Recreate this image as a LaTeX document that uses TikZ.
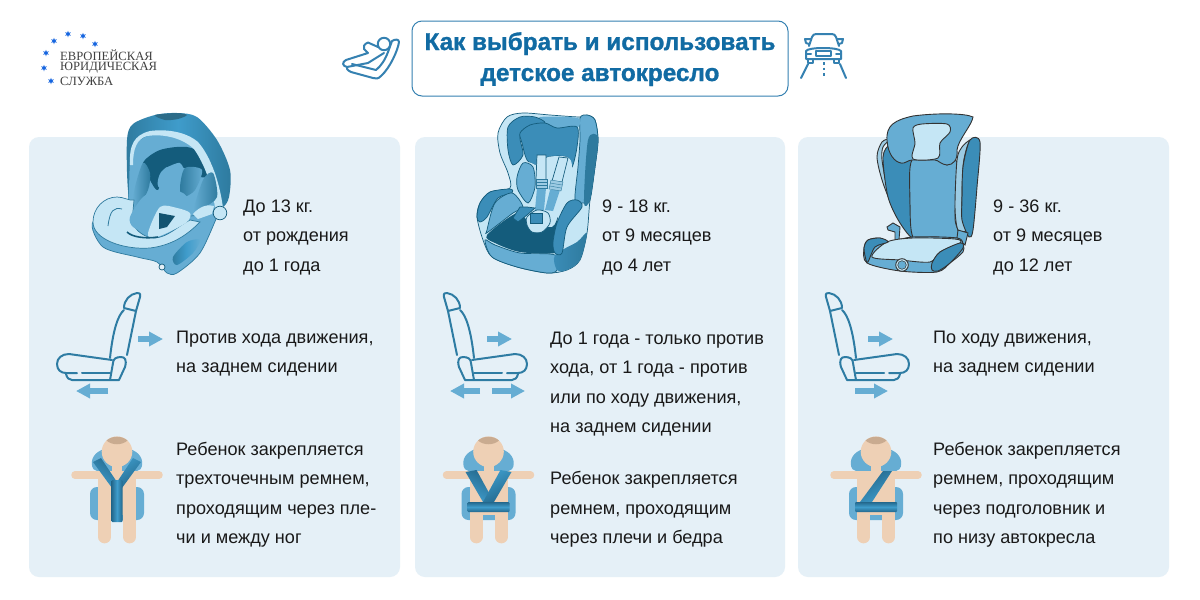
\documentclass[tikz,border=0pt]{standalone}
\usepackage{fontspec}
\setmainfont{Liberation Sans}
\newfontfamily\logofont{Liberation Serif}
\newfontfamily\headfont[BoldFont={Liberation Sans Bold},BoldFeatures={FakeBold=1.2}]{Liberation Sans}
\usetikzlibrary{arrows.meta,shapes.geometric}
\definecolor{panelbg}{HTML}{E5F0F7}
\definecolor{titleblue}{HTML}{116BA3}
\definecolor{seatdark}{HTML}{145C7C}
\definecolor{seatshade}{HTML}{2E7A9E}
\definecolor{seatmid}{HTML}{3B8DB8}
\definecolor{seatblue}{HTML}{66ADD3}
\definecolor{seatrim}{HTML}{9CCBE3}
\definecolor{seatlight}{HTML}{C5E6F5}
\definecolor{iconline}{HTML}{2E7CA3}
\definecolor{skin}{HTML}{EED0B5}
\definecolor{hair}{HTML}{C9AB90}
\definecolor{beltlight}{HTML}{3F9CCB}
\definecolor{beltdark}{HTML}{23688C}
\definecolor{logostar}{HTML}{1565E0}
\tikzset{
  panel/.style={fill=panelbg, rounded corners=10pt},
  bodytext/.style={anchor=west, align=left, inner sep=0pt, text=black!90,
    font=\fontsize{18.1}{29.5}\selectfont},
  logotext/.style={anchor=west, inner sep=0pt, text=black!75,
    font=\logofont\fontsize{12.6}{13}\selectfont},
  logostarmark/.style={star, star points=6, star point ratio=2.2, fill=logostar,
    minimum size=6.5pt, inner sep=0pt},
  titleline/.style={anchor=base, inner sep=0pt, text=titleblue,
    font=\headfont\fontsize{24.3}{30}\selectfont\bfseries},
  outline/.style={draw=seatdark, line width=0.7pt},
  inkline/.style={draw=black!80, line width=0.9pt},
  moveicon/.style={draw=iconline, line width=2pt, line cap=round, line join=round},
  titleicon/.style={draw=titleblue!85, line width=2pt, line cap=round, line join=round},
  movearrow/.style={draw=seatblue, line width=5.5pt, -{Triangle[length=14pt,width=14pt]}},
  limb/.style={draw=skin, line width=12.7pt, line cap=round},
  carseat/.pic={
    % headrest and back
    \draw[moveicon] (14,12) .. controls (13,8) and (15,8) .. (17,8) .. controls (24,9) and (30,15) .. (30,23) -- (18,26) -- cycle;
    \draw[moveicon] (18,26) -- (27,70);
    \draw[moveicon] (30,25) .. controls (36,30) and (41,45) .. (44,73);
    % cushion
    \draw[moveicon] (42,75) -- (85,69) .. controls (92,69) and (97,73) .. (97,79) .. controls (97,85) and (93,88) .. (88,88) -- (77,88);
    \draw[moveicon] (72,88) -- (44,88);
    \draw[moveicon] (88,89) .. controls (87,93) and (85,95) .. (82,95) -- (35,95) -- (29,82) .. controls (27,75) and (29,72) .. (33,72) .. controls (38,72) and (41,74) .. (41,78) -- (44,95);
  },
  childfigure/.pic={
    % seat pads behind the child
    \fill[seatblue] plot[smooth cycle] coordinates {(-25,176) (-19,167) (0,160) (19,167) (25,176) (20,186) (-20,186)};
    \fill[seatblue, rounded corners=7pt] (-27,202) rectangle (27,235);
    % arms, trunk and legs
    \draw[skin, line width=7.5pt, line cap=round] (-42,190) -- (42,190);
    \fill[skin] (-19,187) rectangle (19,230);
    \fill[skin] (-5,178) rectangle (5,190);
    \draw[limb] (-12.3,228) -- (-12.3,252);
    \draw[limb] (12.8,228) -- (12.8,252);
  },
  childhead/.pic={
    \fill[skin] (0,166.7) circle (15.3);
    \fill[hair] (-10.5,155.5) .. controls (-5,150.5) and (5,150.5) .. (10.5,155.5) .. controls (5,160.5) and (-5,160.5) .. cycle;
  },
  lapbelt/.pic={
    \shade[top color=beltdark, bottom color=beltdark, middle color=beltlight, rounded corners=1pt] (-21,217) rectangle (21,227);
  }
}
\begin{document}
\begin{tikzpicture}[x=1pt,y=-1pt]
\useasboundingbox (0,0) rectangle (1200,600);
\fill[white] (0,0) rectangle (1200,600);

% panels
\fill[panel] (29,137) rectangle (400,577);
\fill[panel] (415,137) rectangle (785,577);
\fill[panel] (798,137) rectangle (1169,577);

% logo
\foreach \sx/\sy [count=\i] in {68/34,83/36,54/41,95/44,46/53,44/68,51/81}
  \node[logostarmark] (logostar\i) at (\sx,\sy) {};
\node[logotext] (logoA) at (60,55) {ЕВРОПЕЙСКАЯ};
\node[logotext] (logoB) at (60,68) {ЮРИДИЧЕСКАЯ};
\node[logotext] (logoC) at (60,81) {СЛУЖБА};

% title
\draw[draw=titleblue!85, line width=1pt, rounded corners=10pt] (412,21) rectangle (788,96);
\node[titleline] (titleA) at (600,50) {Как выбрать и использовать};
\node[titleline] (titleB) at (600,81) {детское автокресло};

% baby seat icon
\draw[titleicon] (384,44) circle (6.2);
\draw[titleicon] (378,47) -- (368,42.5) .. controls (364,44) and (363,47) .. (364,49) -- (368,53) -- (346,60) .. controls (342,62) and (342,66) .. (347,67) -- (368,63) -- (384,53);
\draw[titleicon] (392,41) .. controls (395,39) and (399,39) .. (399,42) .. controls (398,50) and (390,68) .. (381,76) .. controls (378,79) and (376,79) .. (373,78) -- (351,72) .. controls (347,70) and (346,68) .. (347,67);
\draw[titleicon] (392,41) -- (388,52) .. controls (385,60) and (381,66) .. (376,70) -- (352,64);

% car icon
\draw[titleicon] (809,46) -- (812,37) .. controls (813,35) and (814,34) .. (816,34) -- (832,34) .. controls (834,34) and (835,35) .. (836,37) -- (839,46);
\draw[titleicon] (806,51) .. controls (808,47) and (838,47) .. (841,51) -- (841,59) -- (806,59) -- cycle;
\draw[titleicon] (811,39) -- (805,39) -- (806,43) -- (809,44);
\draw[titleicon] (837,39) -- (843,39) -- (842,43) -- (839,44);
\draw[titleicon] (816,50.5) rectangle (831,55.5);
\draw[titleicon] (806,54) -- (811,54);
\draw[titleicon] (841,54) -- (836,54);
\draw[titleicon] (808,59) -- (808,63) -- (813,63) -- (813,59);
\draw[titleicon] (834,59) -- (834,63) -- (839,63) -- (839,59);
\draw[titleicon] (808,64) -- (801,78);
\draw[titleicon] (840,64) -- (846,78);
\draw[titleicon, line cap=butt, dash pattern=on 2.5pt off 3pt] (823.5,62) -- (823.5,78);

% infant carrier
\shade[left color=seatshade, right color=seatshade, middle color=beltlight]
  plot[smooth cycle] coordinates {(127,140) (133,124) (155,115) (177,113) (197,117) (217,140) (230,170) (229,197) (222,208) (205,215) (135,215) (128,190)};
\fill[seatdark!90] plot[smooth cycle] coordinates {(155,115) (177,113) (187,115) (178,119) (165,120)};
\fill[seatblue] plot[smooth cycle] coordinates {(132,150) (150,135) (177,134) (197,146) (210,170) (217,205) (205,218) (145,228) (129,215) (129,190)};
\fill[seatdark] plot[smooth cycle] coordinates {(143,163) (160,150) (187,147) (207,157) (214,175) (200,177) (185,168) (165,168) (158,190) (150,180)};
\fill[seatlight] (130,165) .. controls (129,145) and (134,135) .. (150,131) .. controls (165,129) and (185,131) .. (198,142) .. controls (212,158) and (220,185) .. (223,208) -- (215,208) .. controls (212,185) and (205,165) .. (194,149) .. controls (180,136) and (160,134) .. (147,136) .. controls (137,139) and (133,148) .. (133,165) -- cycle;
\shade[left color=seatblue, right color=seatshade]
  plot[smooth cycle] coordinates {(143,163) (150,173) (148,190) (135,213) (132,210) (135,187)};
\fill[seatblue] plot[smooth cycle] coordinates {(163,170) (180,163) (185,177) (180,187) (160,188) (158,180)};
\shade[left color=seatshade, right color=seatblue]
  plot[smooth cycle] coordinates {(185,168) (202,170) (195,190) (183,197) (180,187)};
\shade[left color=seatblue, right color=seatshade]
  plot[smooth cycle] coordinates {(203,180) (213,173) (217,197) (203,208) (193,213)};
% carrier base
\fill[seatblue, outline, draw=seatshade] plot[smooth cycle] coordinates {(93,222) (103,247) (137,257) (157,262) (167,273) (177,273) (200,253) (217,217) (222,207) (200,215) (130,220)};
\shade[left color=seatshade, right color=seatblue, middle color=beltlight]
  plot[smooth cycle] coordinates {(173,257) (187,242) (200,240) (193,253) (177,265)};
\draw[outline, fill=panelbg] (162,267) circle (3);
% carrier seat and apron
\fill[seatlight, draw=seatshade, line width=0.7pt] (93,222) .. controls (93,208) and (104,197) .. (117,197) .. controls (124,197) and (129,201) .. (134,200) -- (132,222) .. controls (136,232) and (146,238) .. (155,238) .. controls (168,237) and (178,226) .. (190,220) -- (200,222) .. controls (190,232) and (175,245) .. (150,248) .. controls (125,250) and (93,240) .. (93,222) -- cycle;
\fill[seatblue] plot[smooth cycle] coordinates {(160,190) (183,193) (192,208) (177,213) (160,210) (153,230) (147,233) (133,227) (130,217) (143,197)};
\fill[seatlight] plot[smooth cycle] coordinates {(148,233) (160,207) (177,208) (190,213) (187,222) (167,233) (153,238)};
\fill[seatdark!90!black] (159,213) -- (175,216) -- (167,227) -- (159,229) -- cycle;
\draw[seatdark, line width=1.6pt] (127,232) .. controls (132,237) and (145,239) .. (158,237);
\draw[seatshade, line width=0.8pt] (108,226) .. controls (110,210) and (114,207) .. (122,209);
\fill[seatlight] (193,214) .. controls (200,206) and (208,204) .. (214,206) -- (212,214) -- (198,219) -- cycle;
\draw[outline, fill=seatlight] (220,213) circle (6.8);

% toddler seat
\fill[seatlight, outline] plot[smooth cycle] coordinates {(498,133) (507,117) (523,113) (550,115) (580,117) (587,115) (595,120) (598,140) (595,167) (590,200) (587,233) (580,260) (567,270) (547,273) (517,267) (492,257) (483,240) (477,217) (480,203) (490,192) (510,188) (508,173) (500,153)};
\fill[seatblue, outline] plot[smooth cycle] coordinates {(580,118) (587,115) (595,120) (598,140) (595,167) (590,200) (583,203) (575,200) (578,167) (580,140)};
\fill[seatshade] plot[smooth cycle] coordinates {(588,140) (598,137) (595,167) (590,200) (584,202)};
\fill[seatblue] plot[smooth cycle] coordinates {(540,117) (578,118) (577,128) (557,129) (545,124)};
\fill[seatmid, outline] plot[smooth cycle] coordinates {(508,127) (520,117) (535,117) (545,123) (527,127) (520,137) (523,155) (513,165) (508,150)};
\fill[seatmid, outline] plot[smooth cycle] coordinates {(520,133) (530,125) (545,123) (557,128) (577,127) (577,147) (572,167) (567,157) (548,157) (537,165) (527,160) (522,143)};
\fill[seatlight] plot[smooth cycle] coordinates {(527,163) (537,165) (548,157) (567,157) (572,167) (567,197) (553,213) (533,210) (523,187)};
\fill[seatblue, outline] plot[smooth cycle] coordinates {(517,177) (523,163) (533,167) (535,187) (528,203) (518,190)};
% straps
\fill[seatlight, outline] (537,155) -- (546,155) -- (546,180) -- (536,180) -- cycle;
\fill[seatlight, outline] (559,157) -- (568,158) -- (562,182) -- (552,181) -- cycle;
\fill[seatblue] (537,188) -- (546,188) -- (544,210) -- (535,210) -- cycle;
\fill[seatblue] (550,190) -- (560,190) -- (553,211) -- (545,210) -- cycle;
\fill[seatrim, draw=seatshade, line width=0.4pt] (536,179) rectangle (547,188);
\draw[seatshade, line width=0.4pt] (536,182) -- (547,182) (536,185) -- (547,185);
\fill[seatrim, draw=seatshade, line width=0.4pt] (551,180) -- (563,182) -- (561,191) -- (549,189) -- cycle;
\draw[seatshade, line width=0.4pt] (550,183) -- (562,185) (550,186) -- (561,188);
% arm rests and cushion
\fill[seatmid, outline] plot[smooth cycle] coordinates {(477,217) (480,203) (490,192) (510,189) (512,193) (498,198) (487,217) (480,222)};
\fill[seatblue, outline] plot[smooth cycle] coordinates {(487,230) (495,203) (512,193) (523,207) (513,213) (488,232)};
\fill[seatdark] plot[smooth cycle] coordinates {(487,235) (517,213) (530,223) (552,227) (558,217) (553,243) (555,253) (520,252) (495,243)};
\fill[seatblue, outline] plot[smooth cycle] coordinates {(485,240) (495,245) (520,253) (555,255) (557,270) (547,273) (517,267) (492,257)};
\shade[left color=seatmid, right color=seatshade] plot[smooth cycle] coordinates {(555,255) (577,242) (587,233) (580,260) (567,270) (557,270)};
\fill[seatmid, outline] plot[smooth cycle] coordinates {(553,243) (557,223) (567,203) (577,200) (582,207) (567,227) (562,253) (555,253)};
% buckle
\fill[seatmid, outline] (513,218) -- (520,207) -- (527,207) -- (535,208) -- (527,215) -- (518,222) -- cycle;
\fill[seatlight, outline] plot[smooth cycle] coordinates {(527,225) (527,217) (537,210) (548,213) (550,223) (542,232) (532,232)};
\fill[seatmid, outline] (530,213) rectangle (542,223);

% booster seat
\fill[seatrim, inkline] plot[smooth cycle] coordinates {(877,157) (882,142) (890,139) (883,147) (882,160) (888,190) (900,213) (915,233) (912,237) (897,217) (883,183)};
\fill[seatmid, inkline] plot[smooth cycle] coordinates {(883,157) (890,145) (895,158) (902,163) (912,160) (910,200) (913,237) (900,223) (888,197)};
\fill[seatblue, inkline] plot[smooth cycle] coordinates {(912,160) (937,160) (947,165) (957,163) (955,217) (958,230) (957,238) (933,237) (913,237) (910,200)};
\fill[seatrim, inkline] plot[smooth cycle] coordinates {(957,160) (962,147) (970,140) (967,147) (963,167) (962,217) (967,230) (958,230) (955,207)};
\fill[seatmid, inkline] plot[smooth cycle] coordinates {(970,140) (980,142) (977,187) (973,230) (969,237) (962,220) (962,200) (963,167)};
\fill[seatblue, inkline] (958,230) -- (968,233) -- (965,245) -- (957,238) -- cycle;
% booster headrest
\fill[seatblue, inkline] (887,140) .. controls (886,125) and (895,120) .. (913,116) .. controls (935,113) and (965,113) .. (973,117) .. controls (972,125) and (958,140) .. (957,150) .. controls (958,160) and (953,165) .. (947,165) .. controls (942,165) and (938,160) .. (935,160) -- (912,160) .. controls (908,160) and (905,164) .. (901,163) .. controls (895,162) and (888,155) .. cycle;
\fill[seatlight, inkline] plot[smooth cycle] coordinates {(913,128) (922,124) (947,124) (950,132) (940,143) (938,158) (913,159) (915,143)};
% booster cushion
\fill[seatblue, inkline] (887,227) -- (893,223) -- (900,227) -- (899,240) -- (895,242) -- (895,232) -- (888,230) -- cycle;
\fill[seatblue, inkline] plot[smooth cycle] coordinates {(864,248) (868,240) (880,238) (888,242) (913,237) (957,238) (963,245) (963,252) (950,263) (937,272) (900,271) (867,263)};
\fill[seatlight, inkline] plot[smooth cycle] coordinates {(872,257) (887,242) (913,238) (955,239) (960,243) (940,252) (930,262) (900,260)};
\fill[seatmid, inkline] plot[smooth cycle] coordinates {(864,248) (868,240) (880,238) (888,242) (875,247) (868,262) (866,260)};
\fill[seatmid, inkline] plot[smooth cycle] coordinates {(932,270) (932,263) (940,252) (960,243) (963,248) (950,263) (938,271)};
\draw[inkline, fill=seatlight] (902,265) circle (6.3);
\draw[inkline, fill=seatblue, line width=0.5pt] (902,265) circle (4.3);

% weight and age
\node[bodytext] (ageA) at (243,237) {До 13 кг.\\от рождения\\до 1 года};
\node[bodytext] (ageB) at (602,237) {9 - 18 кг.\\от 9 месяцев\\до 4 лет};
\node[bodytext] (ageC) at (993,237) {9 - 36 кг.\\от 9 месяцев\\до 12 лет};

% direction in the car
\pic[xscale=-1] at (154,285) {carseat};
\pic at (430,285) {carseat};
\pic at (812,285) {carseat};
\draw[movearrow] (138,339) -- (163,339);
\draw[movearrow] (108,391) -- (76,391);
\draw[movearrow] (487,339) -- (512,339);
\draw[movearrow] (480,391) -- (450,391);
\draw[movearrow] (492,391) -- (525,391);
\draw[movearrow] (868,339) -- (893,339);
\draw[movearrow] (855,391) -- (888,391);
\node[bodytext] (sideA) at (176,353.5) {Против хода движения,\\на заднем сидении};
\node[bodytext] (sideB) at (550,384) {До 1 года - только против\\хода, от 1 года - против\\или по ходу движения,\\на заднем сидении};
\node[bodytext] (sideC) at (933,353.5) {По ходу движения,\\на заднем сидении};

% harness
\pic at (117,285) {childfigure};
\pic at (488.5,285) {childfigure};
\pic at (876,285) {childfigure};
% Y belt
\shade[left color=beltdark, right color=beltlight, shading angle=-35] (93,462) -- (101,458) -- (121,488) -- (112,488) -- cycle;
\shade[left color=beltlight, right color=beltdark, shading angle=35] (141,462) -- (133,458) -- (113,488) -- (122,488) -- cycle;
\shade[left color=beltdark, right color=beltdark, middle color=beltlight, rounded corners=1pt] (111.5,480) rectangle (122.5,522);
% V belt
\shade[left color=beltdark, right color=beltlight, shading angle=-30] (465.5,472) -- (476.5,470) -- (494,502) -- (483,502) -- cycle;
\shade[left color=beltlight, right color=beltdark, shading angle=30] (511.5,472) -- (500.5,470) -- (483,502) -- (494,502) -- cycle;
\pic at (488.5,285) {lapbelt};
% diagonal belt
\shade[left color=beltdark, right color=beltlight, shading angle=30] (883,471) -- (892,471) -- (872,502) -- (860,502) -- cycle;
\pic at (876,285) {lapbelt};
% heads on top of the belts
\pic at (117,285) {childhead};
\pic at (488.5,285) {childhead};
\pic at (876,285) {childhead};
\node[bodytext] (beltA) at (176,494.5) {Ребенок закрепляется\\трехточечным ремнем,\\проходящим через пле-\\чи и между ног};
\node[bodytext] (beltB) at (550,509.5) {Ребенок закрепляется\\ремнем, проходящим\\через плечи и бедра};
\node[bodytext] (beltC) at (933,494.5) {Ребенок закрепляется\\ремнем, проходящим\\через подголовник и\\по низу автокресла};
\end{tikzpicture}
\end{document}
